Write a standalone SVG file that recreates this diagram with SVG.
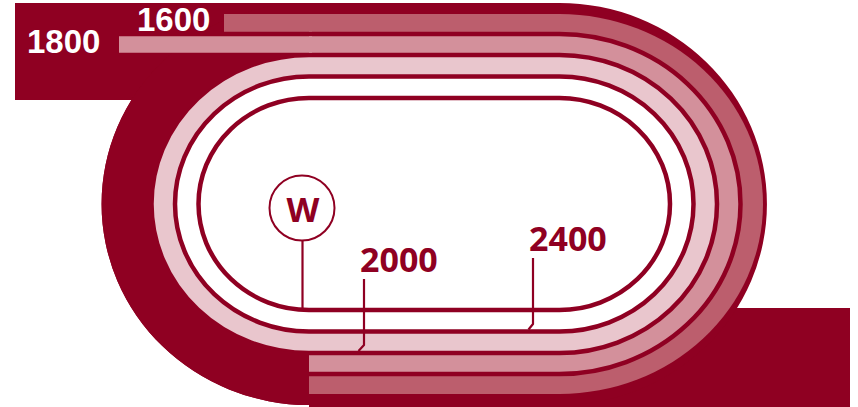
<svg xmlns="http://www.w3.org/2000/svg" width="858" height="407" viewBox="0 0 858 407">
<style>
.dk{fill:#8f0022}
.rose{fill:#bc5e6d}
.med{fill:#d3909b}
.lt{fill:#e9c6cd}
.wh{fill:#ffffff}
.ln{fill:none;stroke:#8f0022;stroke-width:4.5}
.tick{fill:none;stroke:#8f0022;stroke-width:2.2;stroke-linejoin:round}
.lbl{font-family:"Open Sans","Liberation Sans",sans-serif;font-weight:700;font-size:34px;fill:#8f0022}
.wlbl{font-family:"Liberation Sans",Arial,sans-serif;font-weight:700;font-size:33px;fill:#ffffff}
</style>
<rect width="858" height="407" fill="#ffffff"/>
<g id="ground">
<rect class="dk" x="309" y="308" width="541" height="99"/>
<rect class="dk" x="15" y="3" width="305" height="97"/>
<path class="dk" d="M309 3H559.5A207.5 201 0 0 1 559.5 405H309A207.5 201 0 0 1 309 3Z"/>
</g>
<g id="track">
<path class="rose" d="M309 14H559.5A203.5 190 0 0 1 559.5 394H309A203.5 190 0 0 1 309 14Z"/>
<path class="med" d="M309 34H559.5A181 170 0 0 1 559.5 374H309A181 170 0 0 1 309 34Z"/>
<path class="lt" d="M309 55H559.5A157.5 149 0 0 1 559.5 353H309A157.5 149 0 0 1 309 55Z"/>
<path class="wh" d="M309 76.5H559.5A134 127.5 0 0 1 559.5 331.5H309A134 127.5 0 0 1 309 76.5Z"/>
<path class="ln" d="M309 34H559.5A181 170 0 0 1 559.5 374H309A181 170 0 0 1 309 34Z"/>
<path class="ln" d="M309 55H559.5A157.5 149 0 0 1 559.5 353H309A157.5 149 0 0 1 309 55Z"/>
<path class="ln" d="M309 76.5H559.5A134 127.5 0 0 1 559.5 331.5H309A134 127.5 0 0 1 309 76.5Z"/>
<path class="ln" d="M309 98H559.5A110.5 106 0 0 1 559.5 310H309A110.5 106 0 0 1 309 98Z"/>
</g>
<g id="left-cover">
<path class="dk" d="M309 3A207.5 201 0 0 0 309 405L309 353A157.5 149 0 0 1 309 55Z"/>
</g>
<g id="chute-1800">
<rect class="med" x="119" y="36.25" width="193" height="16.5"/>
<text class="wlbl" x="27" y="53">1800</text>
</g>
<g id="chute-1600">
<rect class="rose" x="224" y="14" width="88" height="17.75"/>
<text class="wlbl" x="137" y="31">1600</text>
</g>
<g id="connectors">
<path class="tick" d="M302.5 240V309"/>
<path class="tick" d="M364 279V345L358.5 351"/>
<path class="tick" d="M533 258V324L528.5 329.5"/>
</g>
<g id="winning-post">
<circle cx="302" cy="208" r="32.5" fill="#ffffff" stroke="#8f0022" stroke-width="2"/>
<text class="lbl" x="303" y="222" text-anchor="middle" font-size="34">W</text>
</g>
<g id="label-2000">
<text class="lbl" x="360" y="272">2000</text>
</g>
<g id="label-2400">
<text class="lbl" x="529" y="251">2400</text>
</g>
</svg>
